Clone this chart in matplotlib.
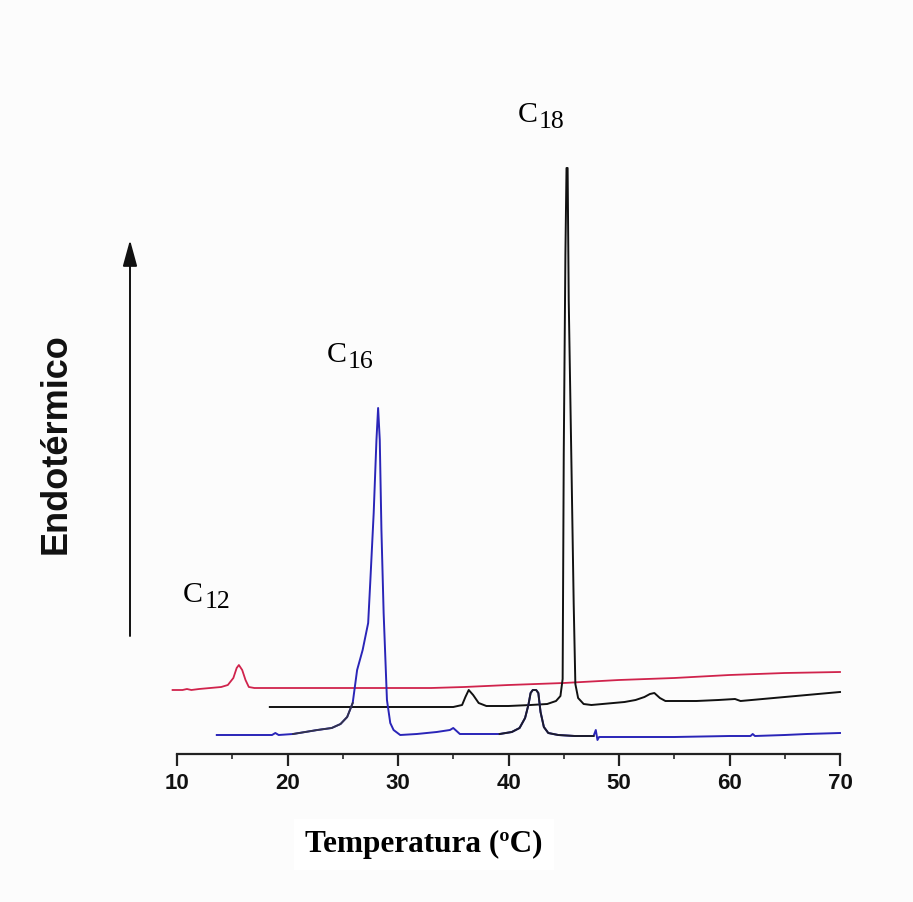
import numpy as np
import matplotlib
matplotlib.use("Agg")
import matplotlib.pyplot as plt
from matplotlib.ticker import MultipleLocator
from matplotlib.transforms import offset_copy

# ---- data (temperature in degC, signal in arbitrary units) ----
red_x = [9.6, 10.5, 10.9, 11.3, 12, 13, 14, 14.6, 15.1, 15.4, 15.6, 15.9, 16.2, 16.5, 17,
         20, 25, 30, 33, 36, 40, 45, 50, 55, 60, 65, 70]
red_y = [64, 64, 65, 64, 65, 66, 67, 69, 76, 86, 89, 84, 74, 67, 66,
         66, 66, 66, 66, 67, 69, 71, 74, 76, 79, 81, 82]

black_x = [18.4, 20, 25, 30, 35, 35.8, 36.1, 36.4, 36.8, 37.3, 38, 40, 42, 43.5, 44.3,
           44.7, 44.9, 45.0, 45.15, 45.25, 45.35, 45.45, 45.7, 45.9, 46.05, 46.3, 46.8,
           47.5, 48.5, 49.5, 50.5, 51.5, 52.3, 52.8, 53.2, 53.7, 54.2, 55, 57, 59, 60.5,
           61, 63, 65, 67, 70]
black_y = [47, 47, 47, 47, 47, 49, 57, 64, 59, 51, 48, 48, 49, 50, 53,
           58, 75, 300, 500, 586, 586, 454, 287, 150, 70, 56, 50,
           49, 50, 51, 52, 54, 57, 60, 61, 56, 53, 53, 53, 54, 55,
           53, 55, 57, 59, 62]

blue_x = [13.6, 16, 18.6, 18.9, 19.2, 20.5, 22.7, 24.0, 24.8, 25.4, 25.9, 26.3, 26.8, 27.3,
          27.5, 27.8, 28.05, 28.2, 28.35, 28.5, 28.7, 29.0, 29.3, 29.6, 30.2, 31.7, 33.5,
          34.7, 35.0, 35.3, 35.6, 37, 39.2, 40.3, 41.0, 41.5, 41.8, 42.0, 42.2, 42.5, 42.7,
          42.9, 43.2, 43.6, 44.5, 46, 47.7, 47.9, 48.05, 48.2, 48.5, 50, 55, 60, 61.9, 62.1,
          62.3, 65, 67, 70]
blue_y = [19, 19, 19, 21, 19, 20, 24, 26, 30, 37, 51, 84, 104, 131,
          174, 241, 314, 346, 314, 224, 141, 54, 31, 24, 19, 20, 22,
          24, 26, 23, 20, 20, 20, 22, 26, 36, 49, 61, 64, 64, 61,
          42, 27, 21, 19, 18, 18, 24, 14, 17, 17, 17, 17, 18, 18, 20,
          18, 19, 20, 21]

xticks = [10, 20, 30, 40, 50, 60, 70]
peak_names = ["12", "16", "18"]
peak_label_x = [10.55, 23.55, 40.85]
peak_label_y = [152, 392, 632]

# ---- figure ----
W, H = 913, 902
fig = plt.figure(figsize=(W / 100, H / 100), dpi=100)
fig.patch.set_facecolor("#fcfcfc")

ax_left, ax_right, ax_bottom_px, ax_h_px = 177, 840, 754, 700
ax = fig.add_axes([ax_left / W, (H - ax_bottom_px) / H,
                   (ax_right - ax_left) / W, ax_h_px / H])
ax.set_facecolor("none")
ax.set_xlim(10, 70)
ax.set_ylim(0, ax_h_px)

blue_c = "#2a25b8"
red_c = "#d0234c"
ax.plot(red_x, red_y, color=red_c, lw=1.3, clip_on=False, zorder=3)
ax.plot(black_x, black_y, color="#111111", lw=1.4, clip_on=False, zorder=3)
ax.plot(blue_x, blue_y, color=blue_c, lw=1.4, clip_on=False, zorder=3)
bx = np.array(blue_x)
by = np.array(blue_y)
m = (bx >= 39.2) & (bx <= 47.7)
ax.plot(bx[m], by[m], color="#1c1c2c", lw=1.4, clip_on=False, zorder=4)
m2 = (bx >= 20.5) & (bx <= 25.9)
ax.plot(bx[m2], by[m2], color="#33334a", lw=1.3, clip_on=False, zorder=4)

for s in ["left", "top", "right"]:
    ax.spines[s].set_visible(False)
ax.spines["bottom"].set_linewidth(1.6)
ax.spines["bottom"].set_color("#222222")
ax.set_yticks([])
ax.set_xticks(xticks)
ax.xaxis.set_minor_locator(MultipleLocator(5))
ax.tick_params(axis="x", which="major", direction="out", length=8.5, width=1.6,
               color="#222222", pad=5)
ax.tick_params(axis="x", which="minor", direction="out", length=3.5, width=1.4,
               color="#444444")
for lab in ax.get_xticklabels():
    lab.set_fontfamily("Liberation Sans")
    lab.set_fontweight("bold")
    lab.set_fontsize(16)
    lab.set_color("#111111")

# peak labels (C with subscript)
for name, lx, ly in zip(peak_names, peak_label_x, peak_label_y):
    ax.text(lx, ly, "C", fontfamily="Liberation Serif", fontsize=21.5,
            ha="left", va="baseline", color="black", zorder=5)
    tr = offset_copy(ax.transData, fig=fig, x=15.3, y=-4.3, units="points")
    ax.text(lx, ly, name, transform=tr, fontfamily="Liberation Serif", fontsize=18.5,
            ha="left", va="baseline", color="black", zorder=5)

# y-axis arrow
ax_arrow = fig.add_axes([0, 0, 1, 1], facecolor="none")
ax_arrow.set_axis_off()
ax_arrow.set_xlim(0, W)
ax_arrow.set_ylim(H, 0)
ax_arrow.annotate("", xy=(130, 240), xytext=(130, 636),
                  arrowprops=dict(arrowstyle="-|>,head_length=0.8,head_width=0.22",
                                  mutation_scale=20, lw=1.4, color="#111111",
                                  shrinkA=0, shrinkB=0))

fig.text(56 / W, 1 - 444 / H, "Endotérmico", rotation=90, ha="center", va="center",
         fontfamily="Liberation Sans", fontweight="bold", fontsize=26, color="#111111")
fig.text(424 / W, 1 - 852 / H, "Temperatura (ºC)", ha="center", va="baseline",
         fontfamily="Liberation Serif", fontweight="bold", fontsize=22.5, color="black",
         bbox=dict(boxstyle="square,pad=0.35", fc="white", ec="none"))

fig.savefig("out.png", dpi=100, facecolor=fig.get_facecolor())
